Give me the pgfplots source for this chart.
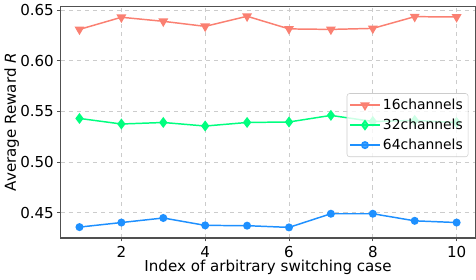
\documentclass[border=0pt]{standalone}
\usepackage{pgfplots}
\pgfplotsset{compat=1.18}
\usepackage{fontspec}
\setmainfont{DejaVu Sans}
\definecolor{c16}{HTML}{FA8072}
\definecolor{c32}{HTML}{00FF7F}
\definecolor{c64}{HTML}{1E90FF}
\definecolor{spine}{HTML}{505050}
\begin{document}
\begin{tikzpicture}
\begin{axis}[
  scale only axis,
  width=308pt, height=172pt,
  xmin=0.55, xmax=10.45,
  ymin=0.4248, ymax=0.6538,
  xtick={2,4,6,8,10},
  ytick={0.45,0.50,0.55,0.60,0.65},
  yticklabel style={xshift=1pt, /pgf/number format/.cd,fixed,fixed zerofill,precision=2},
  /pgf/number format/assume math mode=true,
  tick label style={font=\fontsize{11.2}{13}\selectfont},
  label style={font=\fontsize{11.2}{13}\selectfont},
  xlabel={Index of arbitrary switching case},
  ylabel={Average Reward \textit{R}},
  xlabel style={yshift=5pt},
  ylabel style={yshift=-6pt},
  axis line style={spine, line width=0.8pt},
  tick style={spine, line width=0.6pt},
  tick align=outside,
  major tick length=2.5pt,
  xtick pos=bottom, ytick pos=left,
  grid=major,
  grid style={dashed, gray!40, line width=0.5pt},
  legend style={at={(0.983,0.625)}, anchor=north east, draw=gray!40, rounded corners=2pt,
    fill=white, fill opacity=0.8, text opacity=1, font=\fontsize{10.3}{12}\selectfont,
    row sep=1.5pt, inner sep=2pt},
  legend cell align=left,
  legend image code/.code={
    \draw[mark repeat=2,mark phase=2] plot coordinates {(0cm,0cm) (0.38cm,0cm) (0.76cm,0cm)};
  },
]
\addplot[c16, line width=1.1pt, mark=triangle*, mark options={rotate=180, scale=1.1}, mark size=2.9pt] coordinates {
(1,0.631) (2,0.643) (3,0.639) (4,0.634) (5,0.644) (6,0.6315) (7,0.631) (8,0.632) (9,0.6436) (10,0.6433)};
\addlegendentry{16channels}
\addplot[c32, line width=1.1pt, mark=diamond*, mark size=3.2pt] coordinates {
(1,0.543) (2,0.5375) (3,0.539) (4,0.5355) (5,0.539) (6,0.5395) (7,0.546) (8,0.540) (9,0.541) (10,0.539)};
\addlegendentry{32channels}
\addplot[c64, line width=1.1pt, mark=*, mark size=2.4pt] coordinates {
(1,0.4356) (2,0.4401) (3,0.4446) (4,0.4373) (5,0.437) (6,0.4353) (7,0.4488) (8,0.4488) (9,0.4418) (10,0.4401)};
\addlegendentry{64channels}
\end{axis}
\end{tikzpicture}
\end{document}
